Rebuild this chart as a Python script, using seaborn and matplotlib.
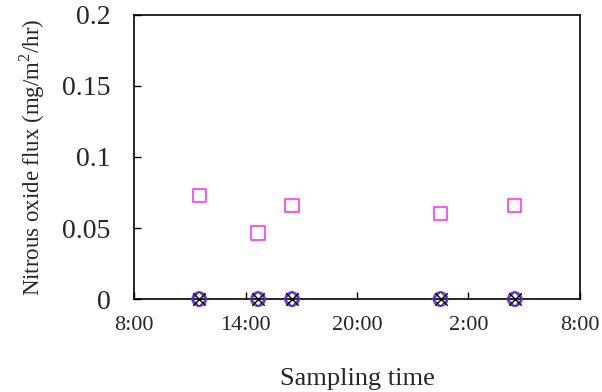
import matplotlib
matplotlib.use("Agg")
import matplotlib.pyplot as plt
import seaborn as sns
import pandas as pd

# sampling times, hours after 8:00
hours = [3.5, 6.67, 8.5, 16.5, 20.5]
flux_a = [0.073, 0.0465, 0.066, 0.060, 0.066]
flux_b = [0, 0, 0, 0, 0]
flux_c = [0, 0, 0, 0, 0]
flux_d = [0, 0, 0, 0, 0]

tick_hours = [0, 6, 12, 18, 24]
tick_labels = ["8:00", "14:00", "20:00", "2:00", "8:00"]

sns.set_style("white")
plt.rcParams['font.family'] = ['Liberation Serif', 'DejaVu Serif']
plt.rcParams['mathtext.fontset'] = 'custom'
plt.rcParams['mathtext.rm'] = 'Liberation Serif'

fig, ax = plt.subplots(figsize=(6.02, 3.92), dpi=100)
fig.subplots_adjust(left=0.223, right=0.963, top=0.962, bottom=0.237)

df = pd.DataFrame({"t": hours, "a": flux_a, "b": flux_b, "c": flux_c, "d": flux_d})

sns.scatterplot(data=df, x="t", y="a", marker="s", s=90, facecolor="none",
                edgecolor="#ff33ff", linewidth=1.2, ax=ax, zorder=3)
sns.scatterplot(data=df, x="t", y="b", marker="o", s=100, facecolor="none",
                edgecolor="#9933cc", linewidth=1.4, ax=ax, zorder=4, clip_on=False)
sns.scatterplot(data=df, x="t", y="c", marker="D", s=55, facecolor="none",
                edgecolor="#3333cc", linewidth=1.0, ax=ax, zorder=4, clip_on=False)
sns.scatterplot(data=df, x="t", y="d", marker="x", s=80, color="black",
                linewidth=1.0, ax=ax, zorder=5, clip_on=False)

ax.set_xlim(0, 24)
ax.set_ylim(0, 0.2)
ax.set_xticks(tick_hours)
ax.set_xticklabels(tick_labels, fontsize=16)
ax.set_yticks([0, 0.05, 0.1, 0.15, 0.2])
ax.set_yticklabels(["0", "0.05", "0.1", "0.15", "0.2"], fontsize=20)
ax.tick_params(axis="both", direction="in", length=5, width=1, color="black",
               bottom=True, left=True)
ax.tick_params(axis="x", pad=12)
ax.tick_params(axis="y", pad=17)

for sp in ax.spines.values():
    sp.set_color("black")
    sp.set_linewidth(1.2)

ax.set_xlabel("Sampling time", fontsize=19, labelpad=24)
ax.set_ylabel("Nitrous oxide flux (mg/m$^2$/hr)", fontsize=16.5, labelpad=11)

fig.savefig("out.png", dpi=100)
